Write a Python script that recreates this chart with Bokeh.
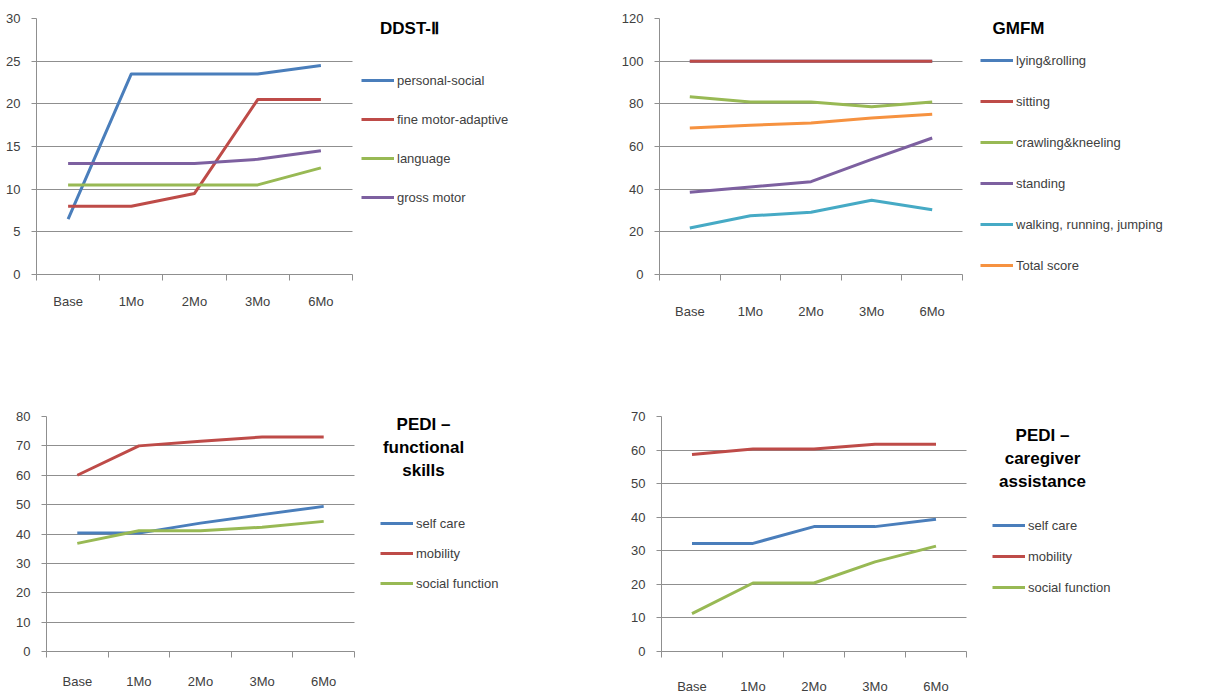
from bokeh.plotting import figure
from bokeh.models import (Range1d, LinearAxis, FixedTicker, SingleIntervalTicker,
                          Legend, LegendItem, Label)
from bokeh.layouts import column, row
from bokeh.embed import file_html
from bokeh.resources import INLINE

# ---------------- data ----------------
months = ["Base", "1Mo", "2Mo", "3Mo", "6Mo"]

ddst_names = ["personal-social", "fine motor-adaptive", "language", "gross motor"]
ddst_personal_social = [6.5, 23.5, 23.5, 23.5, 24.5]
ddst_fine_motor = [8.0, 8.0, 9.5, 20.5, 20.5]
ddst_language = [10.5, 10.5, 10.5, 10.5, 12.5]
ddst_gross_motor = [13.0, 13.0, 13.0, 13.5, 14.5]

gmfm_names = ["lying&rolling", "sitting", "crawling&kneeling", "standing",
              "walking, running, jumping", "Total score"]
gmfm_lying = [100, 100, 100, 100, 100]
gmfm_sitting = [100, 100, 100, 100, 100]
gmfm_crawling = [83.3, 80.9, 80.9, 78.6, 80.9]
gmfm_standing = [38.5, 41.0, 43.5, 54.0, 64.0]
gmfm_walking = [21.8, 27.5, 29.2, 34.8, 30.4]
gmfm_total = [68.7, 70.0, 71.0, 73.4, 75.1]

pedi_names = ["self care", "mobility", "social function"]
pedi_fs_self_care = [40.3, 40.3, 43.7, 46.6, 49.4]
pedi_fs_mobility = [60.0, 70.0, 71.6, 73.0, 73.0]
pedi_fs_social = [36.8, 41.1, 41.1, 42.3, 44.3]

pedi_ca_self_care = [32.2, 32.2, 37.2, 37.2, 39.4]
pedi_ca_mobility = [58.7, 60.3, 60.3, 61.7, 61.7]
pedi_ca_social = [11.3, 20.4, 20.4, 26.7, 31.4]

# ---------------- style ----------------
BLUE, RED, GREEN, PURPLE, AQUA, ORANGE = "#4A7EBB", "#BE4B48", "#98B954", "#7D60A0", "#46AAC5", "#F69240"
GRID = "#8f8f8f"
TXT = "#404040"
FONT = "Liberation Sans"

n_cat = len(months)
cat_pos = [i + 0.5 for i in range(n_cat)]          # category centres on the x scale
cat_edges = list(range(n_cat + 1))                  # category boundaries (tick marks)


def make_chart(title, names, series, colors, ymax, ystep,
               width, height, bl, bt, bb, plot_px, x_standoff,
               leg_x, leg_y, leg_spacing, title_x, title_y):
    br = 4
    frame_w = width - bl - br
    x_end = n_cat * frame_w / plot_px        # frame also holds the legend area on the right
    p = figure(x_range=Range1d(0, x_end), y_range=Range1d(0, ymax),
               width=width, height=height,
               min_border_left=bl, min_border_right=br, min_border_top=bt, min_border_bottom=bb,
               output_backend="svg", toolbar_location=None, x_axis_location=None)
    p.outline_line_color = None
    p.background_fill_color = "white"
    p.border_fill_color = "white"
    p.xgrid.visible = False
    p.ygrid.grid_line_color = GRID
    p.ygrid.grid_line_width = 1
    p.ygrid.cross_bounds = (0, n_cat)

    yax = p.yaxis[0]
    yax.ticker = SingleIntervalTicker(interval=ystep, num_minor_ticks=0)
    yax.axis_line_color = GRID
    yax.major_tick_line_color = GRID
    yax.major_tick_out = 5
    yax.major_tick_in = 0
    yax.minor_tick_line_color = None
    yax.major_label_standoff = 11
    yax.major_label_text_font = FONT
    yax.major_label_text_font_size = "13px"
    yax.major_label_text_color = TXT

    # x axis: labels at the category centres, tick marks on the category boundaries
    xax = LinearAxis(ticker=FixedTicker(ticks=cat_pos, minor_ticks=cat_edges), bounds=(0, n_cat),
                     major_label_overrides=dict(zip(cat_pos, months)),
                     axis_line_color=GRID, major_tick_line_color=None,
                     major_tick_out=0, major_tick_in=0,
                     minor_tick_line_color=GRID, minor_tick_out=6, minor_tick_in=0,
                     major_label_standoff=x_standoff,
                     major_label_text_font=FONT, major_label_text_font_size="13px",
                     major_label_text_color=TXT)
    p.add_layout(xax, "below")

    items = []
    for name, vals, col in zip(names, series, colors):
        r = p.line(cat_pos, vals, line_color=col, line_width=3, line_join="round")
        items.append(LegendItem(label=name, renderers=[r]))

    legend = Legend(items=items, location=(leg_x, leg_y), orientation="vertical",
                    spacing=leg_spacing, padding=0, margin=0,
                    border_line_color=None, background_fill_alpha=0,
                    glyph_width=33, glyph_height=20, label_height=20, label_standoff=3,
                    label_text_font=FONT, label_text_font_size="13px", label_text_color=TXT)
    p.add_layout(legend, "center")

    lab = Label(x=title_x, y=title_y, x_units="screen", y_units="screen", text=title,
                text_align="center", text_baseline="middle", text_font=FONT,
                text_font_size="17px", text_font_style="bold", text_color="black",
                text_line_height=1.2)
    p.add_layout(lab)
    return p


p1 = make_chart("DDST-Ⅱ", ddst_names,
                [ddst_personal_social, ddst_fine_motor, ddst_language, ddst_gross_motor],
                [BLUE, RED, GREEN, PURPLE], 30, 5,
                width=612, height=326, bl=36, bt=18, bb=52, plot_px=316, x_standoff=13,
                leg_x=325, leg_y=67, leg_spacing=19, title_x=373, title_y=246)

p2 = make_chart("GMFM", gmfm_names,
                [gmfm_lying, gmfm_sitting, gmfm_crawling, gmfm_standing, gmfm_walking, gmfm_total],
                [BLUE, RED, GREEN, PURPLE, AQUA, ORANGE], 120, 20,
                width=612, height=326, bl=47, bt=18, bb=52, plot_px=303, x_standoff=23,
                leg_x=321, leg_y=-1, leg_spacing=21, title_x=359, title_y=246)

p3 = make_chart("PEDI –\nfunctional\nskills", pedi_names,
                [pedi_fs_self_care, pedi_fs_mobility, pedi_fs_social],
                [BLUE, RED, GREEN], 80, 10,
                width=612, height=370, bl=46, bt=90, bb=44, plot_px=308, x_standoff=16,
                leg_x=334, leg_y=58, leg_spacing=10, title_x=377, title_y=204)

p4 = make_chart("PEDI –\ncaregiver\nassistance", pedi_names,
                [pedi_ca_self_care, pedi_ca_mobility, pedi_ca_social],
                [BLUE, RED, GREEN], 70, 10,
                width=612, height=370, bl=49, bt=90, bb=44, plot_px=305, x_standoff=21,
                leg_x=331, leg_y=54, leg_spacing=11, title_x=381, title_y=193)

layout = column(row(p1, p2), row(p3, p4))
open("out.html", "w").write(file_html(layout, INLINE))
